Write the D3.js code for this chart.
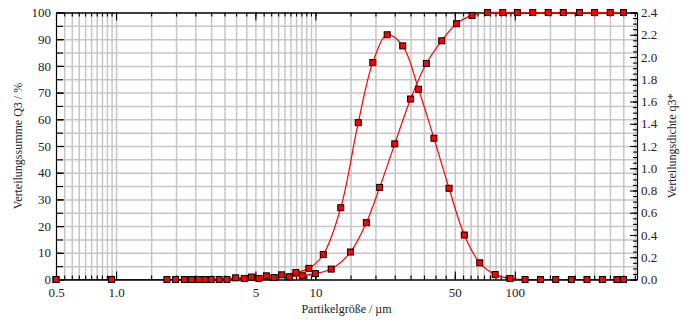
<!DOCTYPE html>
<html>
<head>
<meta charset="utf-8">
<script src="https://cdn.jsdelivr.net/npm/d3@7"></script>
<style>
  body { margin: 0; background: #fff; }
  svg text { font-family: 'Liberation Serif', 'Times New Roman', serif; }
  .grid line { stroke: #c6c6c6; stroke-width: 1.5; }
  .grid .domain { display: none; }
  .axis text { font-size: 13px; fill: #222; }
  .axis line, .axis path { stroke: #000; stroke-width: 1.1; }
  .title { font-size: 12px; fill: #222; }
</style>
</head>
<body>
<svg id="chart" width="690" height="320"></svg>
<script>
// class upper bounds (µm) and cumulative distribution Q3 (%)
const sizeQ3 = [0.5, 1.8, 2.2, 2.6, 3.0, 3.6, 4.4, 5.2, 6.2, 7.4, 8.6, 10, 12, 15, 18, 21, 25, 30,
                36, 43, 51, 61, 73, 87, 103, 123, 147, 175, 211, 251, 301, 351];
const valQ3 = [0, 0, 0, 0, 0, 0, 0.4, 0.4, 0.75, 1.0, 1.4, 2.2, 3.9, 10.3, 21.3, 34.5, 50.8, 67.6,
               80.9, 89.4, 95.8, 98.9, 100, 100, 100, 100, 100, 100, 100, 100, 100, 100];

// class means (µm) and density distribution q3*
const sizeQ = [0.5, 0.95, 1.99, 2.39, 2.79, 3.29, 3.98, 4.78, 5.68, 6.77, 7.98, 9.27, 10.95, 13.4,
               16.4, 19.4, 22.9, 27.4, 32.9, 39.3, 46.8, 55.8, 66.7, 79.7, 94.7, 112.6, 134.5,
               160.4, 192.2, 230.1, 274.9, 325.0, 351];
const valQ = [0, 0, 0, 0, 0, 0, 0.015, 0.022, 0.033, 0.042, 0.063, 0.10, 0.225, 0.645, 1.41, 1.95,
              2.20, 2.10, 1.71, 1.27, 0.82, 0.40, 0.15, 0.045, 0.009, 0, 0, 0, 0, 0, 0, 0, 0];

const xTicks = [0.5, 1, 5, 10, 50, 100];
const xTickLabels = ['0.5', '1.0', '5', '10', '50', '100'];
const yTicksL = d3.range(0, 101, 10);
const yTicksR = d3.range(0, 2.41, 0.2);

const margin = { top: 12.5, right: 53, bottom: 40.5, left: 56 };
const W = 690, H = 320;
const width = W - margin.left - margin.right;
const height = H - margin.top - margin.bottom;

const svg = d3.select('#chart');
const g = svg.append('g').attr('transform', `translate(${margin.left},${margin.top})`);

const x = d3.scaleLog().domain([0.5, 410]).range([0, width]);
const yL = d3.scaleLinear().domain([0, 100]).range([height, 0]);
const yR = d3.scaleLinear().domain([0, 2.4]).range([height, 0]);

// grid steps per decade
const xGrid = [].concat(
  d3.range(0.55, 1.001, 0.05),
  d3.range(1.5, 10.001, 0.5),
  d3.range(15, 100.01, 5),
  d3.range(150, 400.1, 50));
const yGrid = d3.range(5, 100, 5);

g.append('g')
  .attr('class', 'grid')
  .attr('transform', `translate(0,${height})`)
  .call(d3.axisBottom(x).tickValues(xGrid).tickSize(-height).tickFormat(''));

g.append('g')
  .attr('class', 'grid')
  .call(d3.axisLeft(yL).tickValues(yGrid).tickSize(-width).tickFormat(''));

// top frame with inward ticks
g.append('g')
  .attr('class', 'axis')
  .call(d3.axisTop(x).tickValues(xGrid).tickSizeInner(-4).tickSizeOuter(0).tickFormat(''));
g.append('g')
  .attr('class', 'axis')
  .call(d3.axisTop(x).tickValues(xTicks).tickSizeInner(-8).tickSizeOuter(0).tickFormat(''));

// left axis
g.append('g')
  .attr('class', 'axis')
  .call(d3.axisLeft(yL).tickValues(d3.range(0, 101, 5)).tickSizeInner(-7).tickSizeOuter(0).tickFormat(''));
g.append('g')
  .attr('class', 'axis')
  .call(d3.axisLeft(yL).tickValues(yTicksL).tickSizeInner(-8).tickSizeOuter(0).tickPadding(5));

// right axis
g.append('g')
  .attr('class', 'axis')
  .attr('transform', `translate(${width},0)`)
  .call(d3.axisRight(yR).tickValues(d3.range(0, 2.401, 0.05)).tickSizeInner(-4).tickSizeOuter(0).tickFormat(''));
g.append('g')
  .attr('class', 'axis')
  .attr('transform', `translate(${width},0)`)
  .call(d3.axisRight(yR).tickValues(yTicksR).tickSizeInner(-7).tickSizeOuter(0)
    .tickPadding(4).tickFormat(d3.format('.1f')));

// curves
const lineQ3 = d3.line()
  .x((d, i) => x(sizeQ3[i]))
  .y(d => yL(d))
  .curve(d3.curveCatmullRom.alpha(0.5));
const lineQ = d3.line()
  .x((d, i) => x(sizeQ[i]))
  .y(d => yR(d))
  .curve(d3.curveCatmullRom.alpha(0.5));

g.append('path')
  .attr('d', lineQ3(valQ3))
  .attr('fill', 'none')
  .attr('stroke', '#f00')
  .attr('stroke-width', 1.2);
g.append('path')
  .attr('d', lineQ(valQ))
  .attr('fill', 'none')
  .attr('stroke', '#f00')
  .attr('stroke-width', 1.2);

// bottom axis on top of the curves
g.append('g')
  .attr('class', 'axis')
  .attr('transform', `translate(0,${height})`)
  .call(d3.axisBottom(x).tickValues(xGrid).tickSizeInner(-4).tickSizeOuter(0).tickFormat(''));
g.append('g')
  .attr('class', 'axis')
  .attr('transform', `translate(0,${height})`)
  .call(d3.axisBottom(x).tickValues(xTicks).tickSizeInner(-8).tickSizeOuter(0)
    .tickPadding(8).tickFormat((d, i) => xTickLabels[i]));

// markers
const s = 6;
g.append('g').selectAll('rect.q3')
  .data(valQ3)
  .enter().append('rect')
    .attr('class', 'q3')
    .attr('x', (d, i) => x(sizeQ3[i]) - s / 2)
    .attr('y', d => yL(d) - s / 2)
    .attr('width', s).attr('height', s)
    .attr('fill', '#f00').attr('stroke', '#000').attr('stroke-width', 1);

g.append('g').selectAll('rect.q')
  .data(valQ)
  .enter().append('rect')
    .attr('class', 'q')
    .attr('x', (d, i) => x(sizeQ[i]) - s / 2)
    .attr('y', d => yR(d) - s / 2)
    .attr('width', s).attr('height', s)
    .attr('fill', '#f00').attr('stroke', '#000').attr('stroke-width', 1);

// titles
svg.append('text')
  .attr('class', 'title')
  .attr('x', margin.left + width / 2)
  .attr('y', 313)
  .attr('text-anchor', 'middle')
  .text('Partikelgröße / µm');

svg.append('text')
  .attr('class', 'title')
  .attr('transform', `translate(22,${margin.top + height / 2}) rotate(-90)`)
  .attr('text-anchor', 'middle')
  .text('Verteilungssumme Q3 / %');

svg.append('text')
  .attr('class', 'title')
  .attr('transform', `translate(676,${margin.top + height / 2}) rotate(-90)`)
  .attr('text-anchor', 'middle')
  .text('Verteilungsdichte q3*');
</script>
</body>
</html>
